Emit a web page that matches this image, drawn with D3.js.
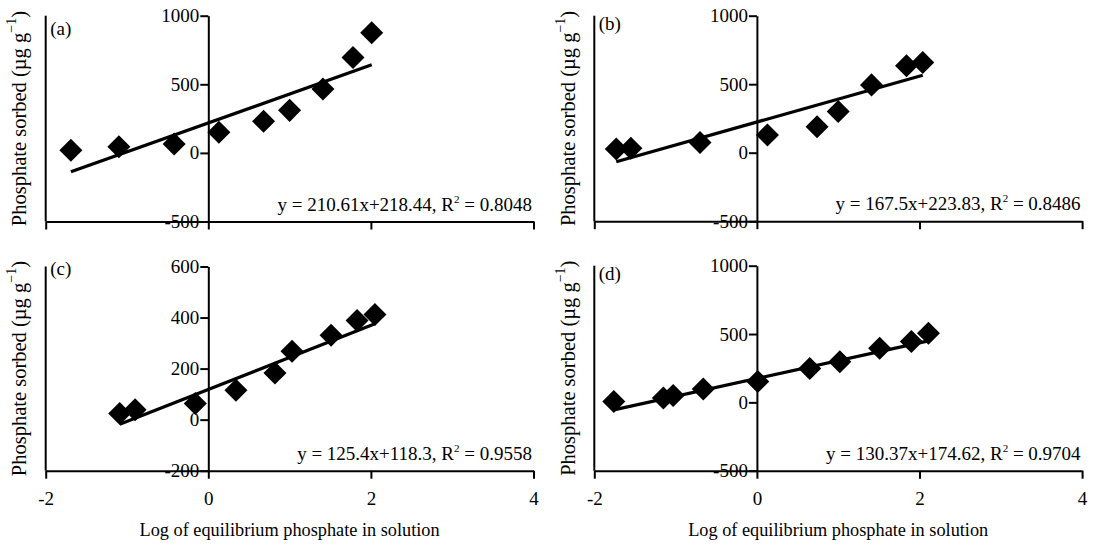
<!DOCTYPE html>
<html>
<head>
<meta charset="utf-8">
<script src="https://cdn.jsdelivr.net/npm/d3@7"></script>
<style>
  html, body { margin: 0; padding: 0; background: #fff; }
  svg { display: block; }
</style>
</head>
<body>
<svg id="chart" width="1094" height="545"></svg>
<script>
"use strict";

// values
var xTicks = [-2, 0, 2, 4];
var yTicksWide = [-500, 0, 500, 1000];
var yTicksNarrow = [-200, 0, 200, 400, 600];

var panelLabels = ["(a)", "(b)", "(c)", "(d)"];

var xA = [-1.69, -1.10, -0.42, 0.13, 0.68, 1.00, 1.41, 1.78, 2.01];
var yA = [19, 44, 65, 150, 230, 310, 465, 695, 876];

var xB = [-1.73, -1.55, -0.70, 0.13, 0.74, 1.00, 1.41, 1.84, 2.04];
var yB = [27, 32, 75, 130, 190, 300, 495, 634, 658];

var xC = [-1.09, -0.90, -0.16, 0.34, 0.82, 1.03, 1.51, 1.83, 2.05];
var yC = [24, 39, 63, 115, 183, 268, 331, 388, 412];

var xD = [-1.76, -1.15, -1.03, -0.66, 0.01, 0.65, 1.02, 1.51, 1.90, 2.11];
var yD = [7, 32, 51, 97, 153, 247, 297, 396, 446, 505];

var slopes = [210.61, 167.5, 125.4, 130.37];
var intercepts = [218.44, 223.83, 118.3, 174.62];
var rSquared = ["0.8048", "0.8486", "0.9558", "0.9704"];

var xTitle = "Log of equilibrium phosphate in solution";

// layout
var SERIF = "'Liberation Serif', 'Times New Roman', Times, serif";
var FONT = 19;
var PLOT_W = 487.8;
var DIAMOND_AREA = 265;

var panels = [
  { xs: xA, ys: yA, yTicks: yTicksWide, left: 45.7, top: 15.7, bottom: 221.5, labelY: 34.5, showX: false },
  { xs: xB, ys: yB, yTicks: yTicksWide, left: 594.3, top: 15.7, bottom: 221.2, labelY: 30, showX: false },
  { xs: xC, ys: yC, yTicks: yTicksNarrow, left: 45.7, top: 266.5, bottom: 470.7, labelY: 275, showX: true },
  { xs: xD, ys: yD, yTicks: yTicksWide, left: 594.3, top: 265.7, bottom: 470.7, labelY: 279.5, showX: true }
];

var svg = d3.select("#chart").attr("font-family", SERIF);

panels.forEach(function (p, i) {
  var g = svg.append("g");
  var yDomain = d3.extent(p.yTicks);

  var x = d3.scaleLinear().domain([xTicks[0], xTicks[xTicks.length - 1]]).range([p.left, p.left + PLOT_W]);
  var y = d3.scaleLinear().domain(yDomain).range([p.bottom, p.top]);

  // left frame line
  g.append("line")
    .attr("x1", x(xTicks[0])).attr("x2", x(xTicks[0]))
    .attr("y1", y(yDomain[1])).attr("y2", y(yDomain[0]))
    .attr("stroke", "#000").attr("stroke-width", 2);

  // y axis crossing at x = 0
  var yAxis = g.append("g")
    .attr("transform", "translate(" + x(0) + ",0)")
    .call(d3.axisLeft(y).tickValues(p.yTicks).tickSize(8).tickSizeOuter(0).tickPadding(1)
      .tickFormat(function (d) { return String(d); }));

  // x axis at the bottom
  var xAxis = g.append("g")
    .attr("transform", "translate(0," + y(yDomain[0]) + ")")
    .call(d3.axisBottom(x).tickValues(xTicks).tickSize(8).tickSizeOuter(0).tickPadding(13)
      .tickFormat(function (d) { return p.showX ? String(d) : ""; }));

  [yAxis, xAxis].forEach(function (ax) {
    ax.attr("font-family", SERIF).attr("font-size", FONT);
    ax.selectAll("path, line").attr("stroke", "#000").attr("stroke-width", 2);
    ax.selectAll("text").attr("fill", "#000");
  });

  // regression line
  var xr = d3.extent(p.xs);
  var lineGen = d3.line()
    .x(function (d) { return x(d); })
    .y(function (d) { return y(slopes[i] * d + intercepts[i]); });
  g.append("path")
    .datum(xr)
    .attr("d", lineGen)
    .attr("fill", "none")
    .attr("stroke", "#000")
    .attr("stroke-width", 3.2);

  // diamonds
  var diamond = d3.symbol(d3.symbolSquare, DIAMOND_AREA);
  g.selectAll("path.pt")
    .data(p.xs)
    .enter()
    .append("path")
    .attr("class", "pt")
    .attr("d", diamond)
    .attr("transform", function (d, j) { return "translate(" + x(d) + "," + y(p.ys[j]) + ") rotate(45)"; })
    .attr("fill", "#000");

  // panel label
  g.append("text")
    .attr("x", p.left + 4.5)
    .attr("y", p.labelY)
    .attr("font-family", SERIF)
    .attr("font-size", FONT)
    .text(panelLabels[i]);

  // equation
  var eq = g.append("text")
    .attr("x", p.left + PLOT_W - 1.5)
    .attr("y", p.bottom - 11)
    .attr("text-anchor", "end")
    .attr("font-family", SERIF)
    .attr("font-size", FONT);
  eq.append("tspan").text("y = " + slopes[i] + "x+" + intercepts[i] + ", R");
  eq.append("tspan").attr("font-size", 11).attr("dy", -8).text("2");
  eq.append("tspan").attr("dy", 8).text(" = " + rSquared[i]);

  // y title
  var yt = g.append("text")
    .attr("transform", "translate(" + (p.left - 19.5) + "," + ((p.top + p.bottom) / 2) + ") rotate(-90)")
    .attr("text-anchor", "middle")
    .attr("font-family", SERIF)
    .attr("font-size", 20.5);
  yt.append("tspan").text("Phosphate sorbed (\u00b5g g");
  yt.append("tspan").attr("font-size", 14).attr("dy", -10).text("\u22121");
  yt.append("tspan").attr("dy", 10).text(")");

  // x title
  if (p.showX) {
    g.append("text")
      .attr("x", p.left + PLOT_W / 2)
      .attr("y", 535.5)
      .attr("text-anchor", "middle")
      .attr("font-family", SERIF)
      .attr("font-size", 18.3)
      .text(xTitle);
  }
});
</script>
</body>
</html>
